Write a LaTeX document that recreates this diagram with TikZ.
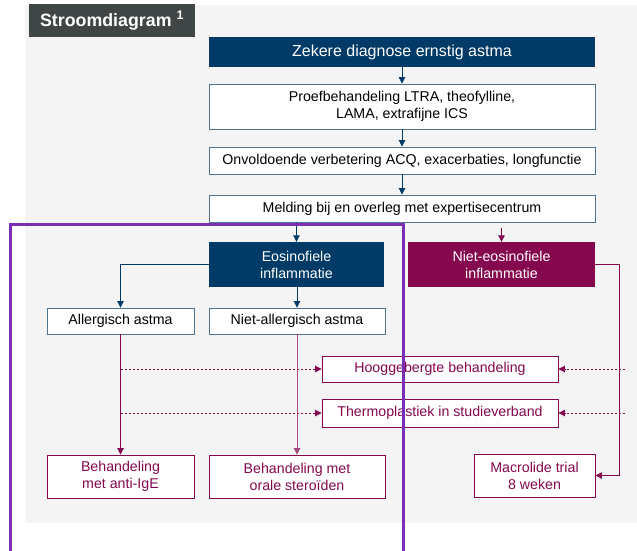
\documentclass[tikz,border=0pt]{standalone}
\usepackage{fontspec}
\setmainfont{Liberation Sans}
\usetikzlibrary{arrows.meta}
\definecolor{navy}{HTML}{003A66}
\definecolor{plum}{HTML}{85084F}
\definecolor{edgeblue}{HTML}{50748F}
\definecolor{violet}{HTML}{7A2DB5}
\definecolor{panel}{HTML}{F4F4F4}
\definecolor{titlegray}{HTML}{404545}
\begin{document}
\begin{tikzpicture}[x=1pt,y=-1pt,
  txt/.style={font=\fontsize{14.2}{17}\selectfont, align=center, inner sep=0pt},
  darkbox/.style={txt, fill=navy, text=white},
  plumbox/.style={txt, fill=plum, text=white},
  bluebox/.style={txt, draw=edgeblue, line width=0.9pt, fill=white, text=black},
  pinkbox/.style={txt, draw=plum, line width=0.9pt, fill=white, text=plum},
  tip/.style={-{Triangle[width=6.5pt,length=6.5pt]}},
  blueline/.style={tip, draw=navy, line width=0.9pt},
  plumline/.style={tip, draw=plum, line width=0.9pt},
  dashline/.style={plumline, dash pattern=on 2.5pt off 1.5pt}]
\useasboundingbox (0,0) rectangle (637,550);
% grey panel and title tab
\fill[panel] (25,5) rectangle (637,523);
\node[fill=titlegray, text=white, font=\fontsize{17.8}{20}\selectfont\bfseries,
  minimum width=166pt, minimum height=33pt, inner sep=0pt] (title) at (112,20.5)
  {Stroomdiagram \textsuperscript{1}};

% boxes
\node[darkbox, minimum width=386pt, minimum height=30pt, font=\fontsize{16}{18}\selectfont] (zek) at (402,52) {Zekere diagnose ernstig astma};
\node[bluebox, minimum width=386pt, minimum height=45pt] (proef) at (402,106.5) {Proefbehandeling LTRA, theofylline,\\LAMA, extrafijne ICS};
\node[bluebox, minimum width=386pt, minimum height=27pt] (onv) at (402,160.5) {Onvoldoende verbetering ACQ, exacerbaties, longfunctie};
\node[bluebox, minimum width=386pt, minimum height=27pt] (meld) at (402,208.5) {Melding bij en overleg met expertisecentrum};
\node[darkbox, minimum width=175pt, minimum height=45pt] (eos) at (296.5,264.5) {Eosinofiele\\inflammatie};
\node[plumbox, minimum width=187pt, minimum height=45pt] (neos) at (501.5,264.5) {Niet-eosinofiele\\inflammatie};
\node[bluebox, minimum width=147pt, minimum height=26pt] (allerg) at (120.5,321) {Allergisch astma};
\node[bluebox, minimum width=176pt, minimum height=26pt] (nall) at (297,321) {Niet-allergisch astma};
\node[pinkbox, minimum width=236pt, minimum height=26pt] (hoog) at (440,369) {Hooggebergte behandeling};
\node[pinkbox, minimum width=236pt, minimum height=28pt] (thermo) at (440,413) {Thermoplastiek in studieverband};
\node[pinkbox, minimum width=147pt, minimum height=43pt] (ige) at (120.5,476.5) {Behandeling\\met anti-IgE};
\node[pinkbox, minimum width=176pt, minimum height=43pt] (orale) at (297,476.5) {Behandeling met\\orale steroïden};
\node[pinkbox, minimum width=121pt, minimum height=43pt] (macro) at (534.5,475.5) {Macrolide trial\\8 weken};

% connectors
\draw[blueline] (zek) -- (proef);
\draw[blueline] (proef) -- (onv);
\draw[blueline] (onv) -- (meld);
\draw[blueline] (eos.north |- meld.south) -- (eos.north);
\coordinate (neosin) at ([yshift=14pt]neos.north);
\draw[plumline] (neosin) -- (neos.north);
\draw[blueline] (eos.west) -| (allerg.north);
\draw[blueline] (nall.north |- eos.south) -- (nall.north);
\draw[plumline] (allerg.south) -- (ige.north);
\draw[plumline, draw=plum!75] (nall.south) -- (orale.north);
\draw[dashline] (allerg.south |- hoog.west) -- (hoog.west);
\draw[dashline] (allerg.south |- thermo.west) -- (thermo.west);
\coordinate (rim) at (625,0);
\draw[dashline] (rim |- hoog.east) -- (hoog.east);
\draw[dashline] (rim |- thermo.east) -- (thermo.east);
\draw[plumline] (neos.east) -- ++(24,0) |- (macro.east);

% highlight frame
\draw[violet, line width=3pt] (10,556) -- (10,224) -- (403,224) -- (403,556);
\end{tikzpicture}
\end{document}
